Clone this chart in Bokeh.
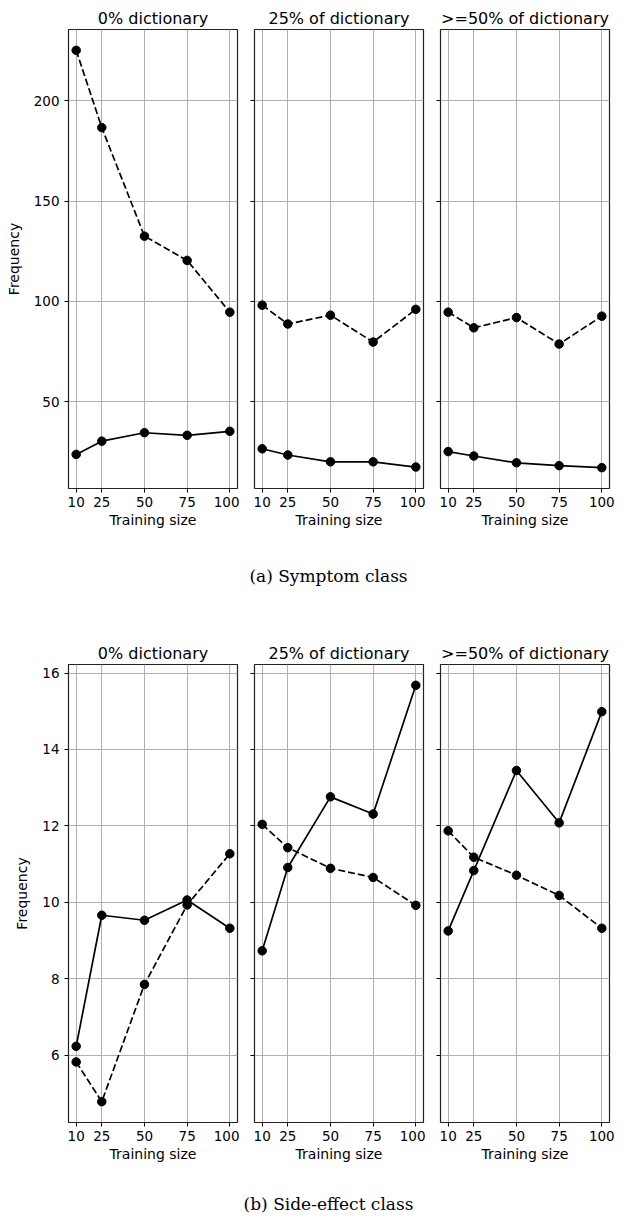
from bokeh.plotting import figure
from bokeh.layouts import column, row
from bokeh.models import Range1d, FixedTicker, Label, CustomLabelingPolicy
from bokeh.embed import file_html
from bokeh.resources import INLINE

# ---------------- data ----------------
training_sizes = [10, 25, 50, 75, 100]
x_ticks = [10, 25, 50, 75, 100]
panel_titles = ["0% dictionary", "25% of dictionary", ">=50% of dictionary"]

# (a) Symptom class
symptom_dashed_0 = [225.1, 186.6, 132.5, 120.4, 94.6]
symptom_solid_0 = [23.7, 30.3, 34.5, 33.2, 35.2]
symptom_dashed_25 = [98.1, 88.7, 93.1, 79.7, 96.0]
symptom_solid_25 = [26.5, 23.4, 20.0, 20.0, 17.4]
symptom_dashed_50 = [94.6, 86.8, 91.9, 78.7, 92.6]
symptom_solid_50 = [25.1, 22.9, 19.5, 18.1, 17.1]
symptom_y_ticks = [50, 100, 150, 200]

# (b) Side-effect class
side_dashed_0 = [5.82, 4.78, 7.85, 9.93, 11.27]
side_solid_0 = [6.23, 9.66, 9.53, 10.06, 9.32]
side_dashed_25 = [12.04, 11.43, 10.89, 10.65, 9.92]
side_solid_25 = [8.73, 10.91, 12.76, 12.31, 15.68]
side_dashed_50 = [11.87, 11.18, 10.71, 10.18, 9.32]
side_solid_50 = [9.25, 10.83, 13.45, 12.08, 14.99]
side_y_ticks = [6, 8, 10, 12, 14, 16]

captions = ["(a) Symptom class", "(b) Side-effect class"]

# ---------------- style ----------------
FONT = "DejaVu Sans"
TICK_FS = "13.5px"
LABEL_FS = "14px"
TITLE_FS = "16px"
FRAME_W = 169
LEFT0 = 68
GAP = 15
TOTAL_W = LEFT0 + 3 * FRAME_W + 2 * (2 + GAP) + 12


def padded(vals, frac=0.05):
    lo, hi = min(vals), max(vals)
    d = (hi - lo) * frac
    return lo - d, hi + d


NO_LABELS = CustomLabelingPolicy(code="return new Set()")


def make_panel(idx, title, dashed, solid, y_range, y_ticks, frame_h, top_border):
    xlo, xhi = padded(training_sizes)
    p = figure(
        frame_width=FRAME_W,
        frame_height=frame_h,
        x_range=Range1d(xlo, xhi),
        y_range=y_range,
        output_backend="svg",
        toolbar_location=None,
        min_border_left=LEFT0 if idx == 0 else GAP,
        min_border_right=12 if idx == 2 else 2,
        min_border_top=top_border,
        min_border_bottom=45,
        title=title,
    )
    p.title.align = "center"
    p.title.text_font = FONT
    p.title.text_font_size = TITLE_FS
    p.title.text_font_style = "normal"
    p.title.text_color = "black"
    p.title.standoff = 4

    p.outline_line_color = "#222222"
    p.outline_line_width = 1.2
    p.outline_line_alpha = 1
    p.background_fill_color = "white"
    p.border_fill_color = "white"

    p.xgrid.grid_line_color = "#b0b0b0"
    p.ygrid.grid_line_color = "#b0b0b0"
    p.xgrid.grid_line_width = 1
    p.ygrid.grid_line_width = 1

    p.xaxis.ticker = FixedTicker(ticks=x_ticks)
    p.yaxis.ticker = FixedTicker(ticks=y_ticks)
    for ax in (p.xaxis, p.yaxis):
        ax.axis_line_color = None
        ax.major_tick_in = 0
        ax.major_tick_out = 4
        ax.major_tick_line_color = "black"
        ax.minor_tick_line_color = None
        ax.major_label_text_font = FONT
        ax.major_label_text_font_size = TICK_FS
        ax.major_label_text_color = "black"
        ax.axis_label_text_font = FONT
        ax.axis_label_text_font_size = LABEL_FS
        ax.axis_label_text_font_style = "normal"
        ax.axis_label_text_color = "black"
    p.xaxis.major_label_standoff = 4
    p.xaxis.axis_label = "Training size"
    p.xaxis.axis_label_standoff = 2
    p.yaxis.major_label_standoff = 5
    if idx == 0:
        p.yaxis.axis_label = "Frequency"
        p.yaxis.axis_label_standoff = 9
    else:
        p.yaxis.major_label_policy = NO_LABELS
        p.yaxis.major_label_text_font_size = "1px"
        p.yaxis.major_label_standoff = 0

    p.line(training_sizes, dashed, line_color="black", line_width=1.7, line_dash="7 3")
    p.scatter(training_sizes, dashed, size=8.5, fill_color="black", line_color="black")
    p.line(training_sizes, solid, line_color="black", line_width=1.7)
    p.scatter(training_sizes, solid, size=8.5, fill_color="black", line_color="black")
    return p


def make_caption(text, height, center_from_top):
    c = figure(
        width=TOTAL_W,
        height=height,
        x_range=Range1d(0, TOTAL_W),
        y_range=Range1d(0, height),
        output_backend="svg",
        toolbar_location=None,
        min_border=0,
        x_axis_type=None,
        y_axis_type=None,
        outline_line_color=None,
    )
    c.add_layout(Label(x=328, y=height - center_from_top, text=text,
                       text_align="center", text_baseline="middle",
                       text_font="DejaVu Serif", text_font_size="17px",
                       text_color="black"))
    return c


sym_sets = [(symptom_dashed_0, symptom_solid_0), (symptom_dashed_25, symptom_solid_25),
            (symptom_dashed_50, symptom_solid_50)]
side_sets = [(side_dashed_0, side_solid_0), (side_dashed_25, side_solid_25),
             (side_dashed_50, side_solid_50)]

all_sym = [v for d, s in sym_sets for v in d + s]
all_side = [v for d, s in side_sets for v in d + s]
sym_range = Range1d(*padded(all_sym))
side_range = Range1d(*padded(all_side))

top_row = [make_panel(i, panel_titles[i], d, s, sym_range, symptom_y_ticks, 459, 29)
           for i, (d, s) in enumerate(sym_sets)]
bot_row = [make_panel(i, panel_titles[i], d, s, side_range, side_y_ticks, 458, 47)
           for i, (d, s) in enumerate(side_sets)]

layout = column(
    row(*top_row),
    make_caption(captions[0], 84, 42),
    row(*bot_row),
    make_caption(captions[1], 50, 36),
)

open("out.html", "w").write(file_html(layout, INLINE))
